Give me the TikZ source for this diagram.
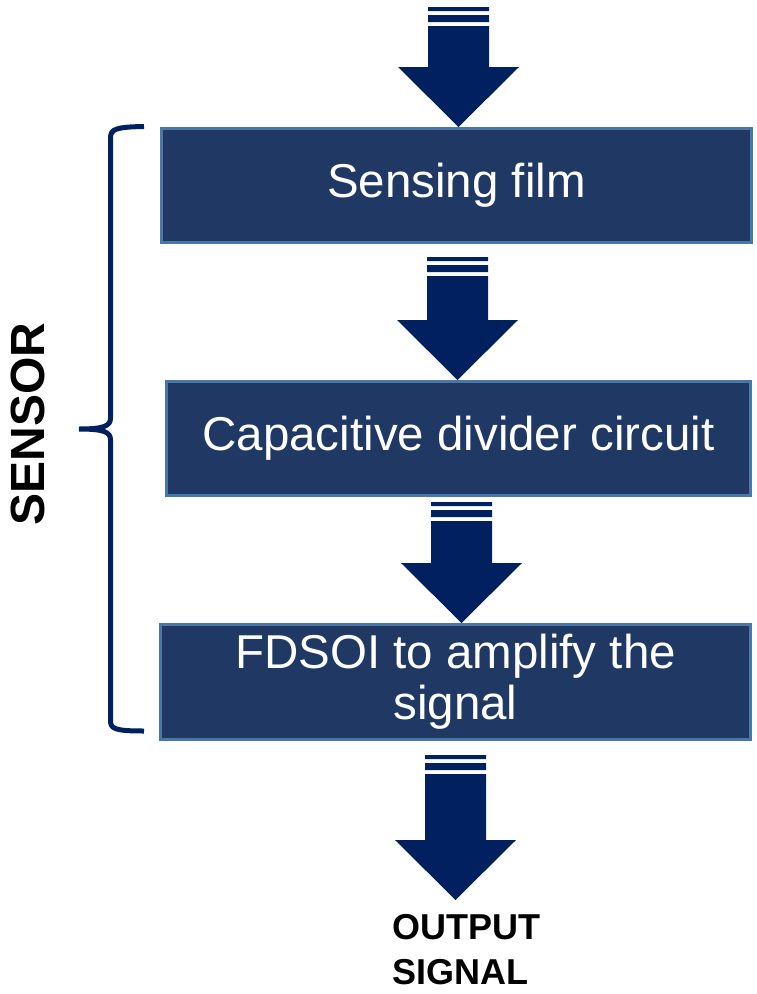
\documentclass[tikz,border=0pt]{standalone}
\usepackage{fontspec}
\setmainfont{Liberation Sans}
\usetikzlibrary{calc}

\definecolor{boxfill}{HTML}{203864}
\definecolor{boxline}{HTML}{4A76A8}
\definecolor{arrowblue}{HTML}{002060}

% striped block arrow: #1 = top centre of the stripes, #2 = where the tip lands
\newcommand\stripedarrow[2]{%
  \path[fill=arrowblue] let \p1=(#1), \p2=(#2) in
    (\x1-30.5pt,\y1) rectangle (\x1+30.5pt,\y1-4pt)
    (\x1-30.5pt,\y1-8pt) rectangle (\x1+30.5pt,\y1-15pt)
    (\x1-30.5pt,\y1-19pt) -- (\x1-30.5pt,\y2+60pt) -- (\x1-60.5pt,\y2+60pt)
    -- (\x1,\y2) -- (\x1+60.5pt,\y2+60pt) -- (\x1+30.5pt,\y2+60pt)
    -- (\x1+30.5pt,\y1-19pt) -- cycle;}

\tikzset{
  stage/.style={draw=boxline, line width=3pt, fill=boxfill, text=white,
    align=center, inner sep=0pt,
    font=\fontsize{47.5}{51}\selectfont},
}

\begin{document}
\begin{tikzpicture}[x=1pt, y=-1pt]
    \useasboundingbox (0,0) rectangle (756,994);

    % Stages
    \node[stage, minimum width=590pt, minimum height=114pt] (film) at (456.5,185.5) {Sensing film};
    \node[stage, minimum width=584pt, minimum height=114pt] (divider) at (458.5,438.5) {Capacitive divider circuit};
    \node[stage, minimum width=590pt, minimum height=115pt] (fdsoi) at (455.5,682) {FDSOI to amplify the\\signal};

    % Output label
    \node[anchor=north west, align=left, inner xsep=0pt, inner ysep=14pt,
      font=\fontsize{36}{45}\selectfont\bfseries] (output) at (392,900) {OUTPUT\\SIGNAL};

    % Arrow starts
    \coordinate (in1) at (458.5,7);
    \coordinate (in2) at (457.5,257);
    \coordinate (in3) at (461.5,502);
    \coordinate (in4) at (455.5,755);

    \stripedarrow{in1}{film.north}
    \stripedarrow{in2}{divider.north}
    \stripedarrow{in3}{fdsoi.north}
    \stripedarrow{in4}{output.north}

    % Brace around the sensor
    \coordinate (btop) at (144,126.5);
    \coordinate (bbot) at (144,731);
    \coordinate (btip) at (79,429);
    \draw[arrowblue, line width=5pt]
      (btop) .. controls (116,127) and (110.5,129) .. (110.5,138)
      -- (110.5,418) .. controls (110.5,426) and (104,429) .. (btip)
      .. controls (104,429) and (110.5,432) .. (110.5,440)
      -- (110.5,721) .. controls (110.5,729) and (116,731) .. (bbot);
    \node[rotate=90, font=\fontsize{48}{50}\selectfont\bfseries] (sensor) at (28,424) {SENSOR};
\end{tikzpicture}
\end{document}
